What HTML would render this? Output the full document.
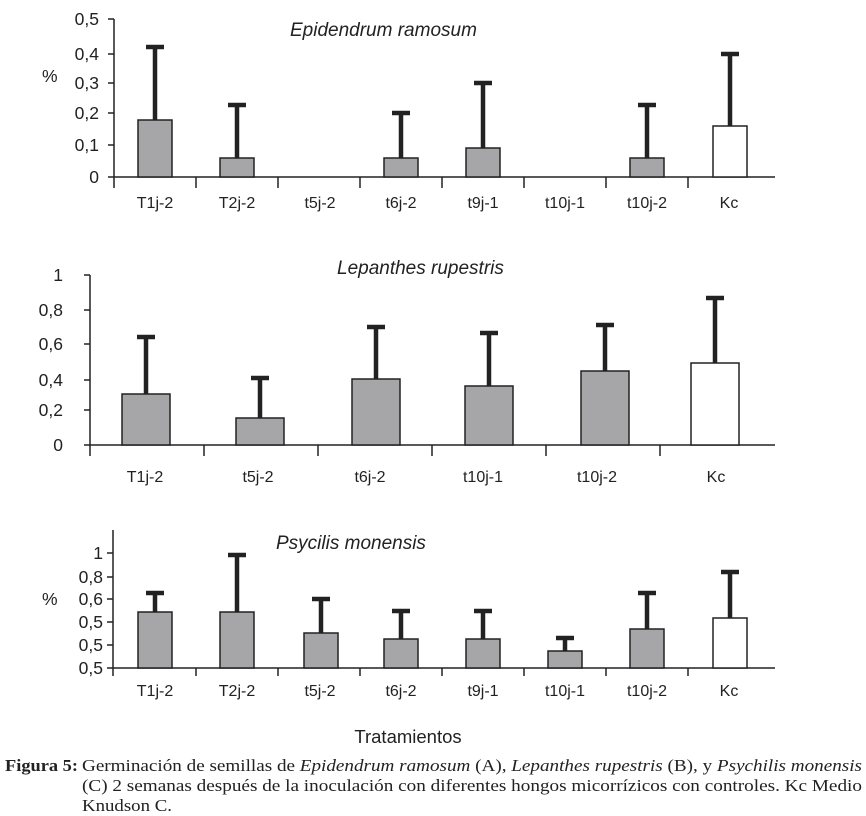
<!DOCTYPE html>
<html><head><meta charset="utf-8"><style>
body{margin:0;background:#fff}
svg{display:block}
.t{font-family:"Liberation Sans",sans-serif;font-size:16px;fill:#222}
.k{font-family:"Liberation Sans",sans-serif;font-size:17.5px;fill:#222}
.i{font-style:italic;font-size:19px}
.s{font-family:"Liberation Serif",serif;font-size:17px;fill:#222}
.b{fill:#a6a6a8;stroke:#222;stroke-width:1.5}
.w{fill:#fff;stroke:#222;stroke-width:1.5}
.e{stroke:#222;stroke-width:4.5}
.a{stroke:#222;stroke-width:1.5}
</style></head><body>
<svg width="866" height="816" viewBox="0 0 866 816">
<!-- Chart A -->
<g>
<line class="a" x1="114" y1="19" x2="114" y2="188"/>
<line class="a" x1="114" y1="177" x2="775" y2="177"/>
<g class="a">
<line x1="108" y1="19" x2="114" y2="19"/><line x1="108" y1="54" x2="114" y2="54"/><line x1="108" y1="83" x2="114" y2="83"/><line x1="108" y1="113" x2="114" y2="113"/><line x1="108" y1="145" x2="114" y2="145"/><line x1="108" y1="177" x2="114" y2="177"/>
<line x1="196" y1="177" x2="196" y2="188"/><line x1="278" y1="177" x2="278" y2="188"/><line x1="360" y1="177" x2="360" y2="188"/><line x1="442" y1="177" x2="442" y2="188"/><line x1="524" y1="177" x2="524" y2="188"/><line x1="606" y1="177" x2="606" y2="188"/><line x1="688" y1="177" x2="688" y2="188"/>
</g>
<g class="k" text-anchor="end"><text x="99" y="25">0,5</text><text x="99" y="60">0,4</text><text x="99" y="89">0,3</text><text x="99" y="119">0,2</text><text x="99" y="151">0,1</text><text x="99" y="183">0</text></g>
<text class="k" x="42" y="82">%</text>
<text class="t i" x="290" y="36">Epidendrum ramosum</text>
<rect class="b" x="138" y="120" width="34" height="57"/><line class="e" x1="155" y1="120" x2="155" y2="47"/><line class="e" x1="146" y1="47" x2="164" y2="47"/>
<rect class="b" x="220" y="158" width="34" height="19"/><line class="e" x1="237" y1="158" x2="237" y2="105"/><line class="e" x1="228" y1="105" x2="246" y2="105"/>
<rect class="b" x="384" y="158" width="34" height="19"/><line class="e" x1="401" y1="158" x2="401" y2="113"/><line class="e" x1="392" y1="113" x2="410" y2="113"/>
<rect class="b" x="466" y="148" width="34" height="29"/><line class="e" x1="483" y1="148" x2="483" y2="83"/><line class="e" x1="474" y1="83" x2="492" y2="83"/>
<rect class="b" x="630" y="158" width="34" height="19"/><line class="e" x1="647" y1="158" x2="647" y2="105"/><line class="e" x1="638" y1="105" x2="656" y2="105"/>
<rect class="w" x="713" y="126" width="34" height="51"/><line class="e" x1="730" y1="126" x2="730" y2="54"/><line class="e" x1="721" y1="54" x2="739" y2="54"/>
<g class="t" text-anchor="middle"><text x="155" y="208">T1j-2</text><text x="237" y="208">T2j-2</text><text x="320" y="208">t5j-2</text><text x="401" y="208">t6j-2</text><text x="483" y="208">t9j-1</text><text x="565" y="208">t10j-1</text><text x="647" y="208">t10j-2</text><text x="729" y="208">Kc</text></g>
</g>
<!-- Chart B -->
<g>
<line class="a" x1="90" y1="275" x2="90" y2="456"/>
<line class="a" x1="90" y1="445" x2="775" y2="445"/>
<g class="a">
<line x1="84" y1="275" x2="90" y2="275"/><line x1="84" y1="310" x2="90" y2="310"/><line x1="84" y1="344" x2="90" y2="344"/><line x1="84" y1="380" x2="90" y2="380"/><line x1="84" y1="410" x2="90" y2="410"/><line x1="84" y1="445" x2="90" y2="445"/>
<line x1="204" y1="445" x2="204" y2="456"/><line x1="318" y1="445" x2="318" y2="456"/><line x1="432" y1="445" x2="432" y2="456"/><line x1="546" y1="445" x2="546" y2="456"/><line x1="660" y1="445" x2="660" y2="456"/>
</g>
<g class="k" text-anchor="end"><text x="63" y="281">1</text><text x="63" y="316">0,8</text><text x="63" y="350">0,6</text><text x="63" y="386">0,4</text><text x="63" y="416">0,2</text><text x="63" y="451">0</text></g>
<text class="t i" x="337" y="274">Lepanthes rupestris</text>
<rect class="b" x="122" y="394" width="48" height="51"/><line class="e" x1="146" y1="394" x2="146" y2="337"/><line class="e" x1="137" y1="337" x2="155" y2="337"/>
<rect class="b" x="236" y="418" width="48" height="27"/><line class="e" x1="260" y1="418" x2="260" y2="378"/><line class="e" x1="251" y1="378" x2="269" y2="378"/>
<rect class="b" x="352" y="379" width="48" height="66"/><line class="e" x1="376" y1="379" x2="376" y2="327"/><line class="e" x1="367" y1="327" x2="385" y2="327"/>
<rect class="b" x="465" y="386" width="48" height="59"/><line class="e" x1="489" y1="386" x2="489" y2="333"/><line class="e" x1="480" y1="333" x2="498" y2="333"/>
<rect class="b" x="581" y="371" width="48" height="74"/><line class="e" x1="605" y1="371" x2="605" y2="325"/><line class="e" x1="596" y1="325" x2="614" y2="325"/>
<rect class="w" x="691" y="363" width="48" height="82"/><line class="e" x1="715" y1="363" x2="715" y2="298"/><line class="e" x1="706" y1="298" x2="724" y2="298"/>
<g class="t" text-anchor="middle"><text x="145" y="482">T1j-2</text><text x="258" y="482">t5j-2</text><text x="370" y="482">t6j-2</text><text x="483" y="482">t10j-1</text><text x="597" y="482">t10j-2</text><text x="716" y="482">Kc</text></g>
</g>
<!-- Chart C -->
<g>
<line class="a" x1="113" y1="530" x2="113" y2="676"/>
<line class="a" x1="113" y1="668" x2="775" y2="668"/>
<g class="a">
<line x1="107" y1="553" x2="113" y2="553"/><line x1="107" y1="577" x2="113" y2="577"/><line x1="107" y1="599" x2="113" y2="599"/><line x1="107" y1="622" x2="113" y2="622"/><line x1="107" y1="645" x2="113" y2="645"/><line x1="107" y1="668" x2="113" y2="668"/>
<line x1="196" y1="668" x2="196" y2="676"/><line x1="278" y1="668" x2="278" y2="676"/><line x1="360" y1="668" x2="360" y2="676"/><line x1="442" y1="668" x2="442" y2="676"/><line x1="524" y1="668" x2="524" y2="676"/><line x1="606" y1="668" x2="606" y2="676"/><line x1="688" y1="668" x2="688" y2="676"/>
</g>
<g class="k" text-anchor="end"><text x="103" y="559">1</text><text x="103" y="583">0,8</text><text x="103" y="605">0,6</text><text x="103" y="628">0,5</text><text x="103" y="651">0,5</text><text x="103" y="674">0,5</text></g>
<text class="k" x="42" y="605">%</text>
<text class="t i" x="276" y="549">Psycilis monensis</text>
<rect class="b" x="138" y="612" width="34" height="56"/><line class="e" x1="155" y1="612" x2="155" y2="593"/><line class="e" x1="146" y1="593" x2="164" y2="593"/>
<rect class="b" x="220" y="612" width="34" height="56"/><line class="e" x1="237" y1="612" x2="237" y2="555"/><line class="e" x1="228" y1="555" x2="246" y2="555"/>
<rect class="b" x="304" y="633" width="34" height="35"/><line class="e" x1="321" y1="633" x2="321" y2="599"/><line class="e" x1="312" y1="599" x2="330" y2="599"/>
<rect class="b" x="384" y="639" width="34" height="29"/><line class="e" x1="401" y1="639" x2="401" y2="611"/><line class="e" x1="392" y1="611" x2="410" y2="611"/>
<rect class="b" x="466" y="639" width="34" height="29"/><line class="e" x1="483" y1="639" x2="483" y2="611"/><line class="e" x1="474" y1="611" x2="492" y2="611"/>
<rect class="b" x="548" y="651" width="34" height="17"/><line class="e" x1="565" y1="651" x2="565" y2="638"/><line class="e" x1="556" y1="638" x2="574" y2="638"/>
<rect class="b" x="630" y="629" width="34" height="39"/><line class="e" x1="647" y1="629" x2="647" y2="593"/><line class="e" x1="638" y1="593" x2="656" y2="593"/>
<rect class="w" x="713" y="618" width="34" height="50"/><line class="e" x1="730" y1="618" x2="730" y2="572"/><line class="e" x1="721" y1="572" x2="739" y2="572"/>
<g class="t" text-anchor="middle"><text x="155" y="696">T1j-2</text><text x="237" y="696">T2j-2</text><text x="320" y="696">t5j-2</text><text x="401" y="696">t6j-2</text><text x="483" y="696">t9j-1</text><text x="565" y="696">t10j-1</text><text x="647" y="696">t10j-2</text><text x="729" y="696">Kc</text></g>
</g>
<text class="t" x="408" y="743" text-anchor="middle" style="font-size:18.5px">Tratamientos</text>
<text class="s" x="5" y="771" font-weight="bold" textLength="73" lengthAdjust="spacingAndGlyphs">Figura 5:</text>
<text class="s" x="82" y="771" textLength="780" lengthAdjust="spacingAndGlyphs">Germinación de semillas de <tspan font-style="italic">Epidendrum ramosum</tspan> (A), <tspan font-style="italic">Lepanthes rupestris</tspan> (B), y <tspan font-style="italic">Psychilis monensis</tspan></text>
<text class="s" x="82" y="791" textLength="780" lengthAdjust="spacingAndGlyphs">(C) 2 semanas después de la inoculación con diferentes hongos micorrízicos con controles.  Kc Medio</text>
<text class="s" x="82" y="811" textLength="90" lengthAdjust="spacingAndGlyphs">Knudson C.</text>
</svg>
</body></html>
